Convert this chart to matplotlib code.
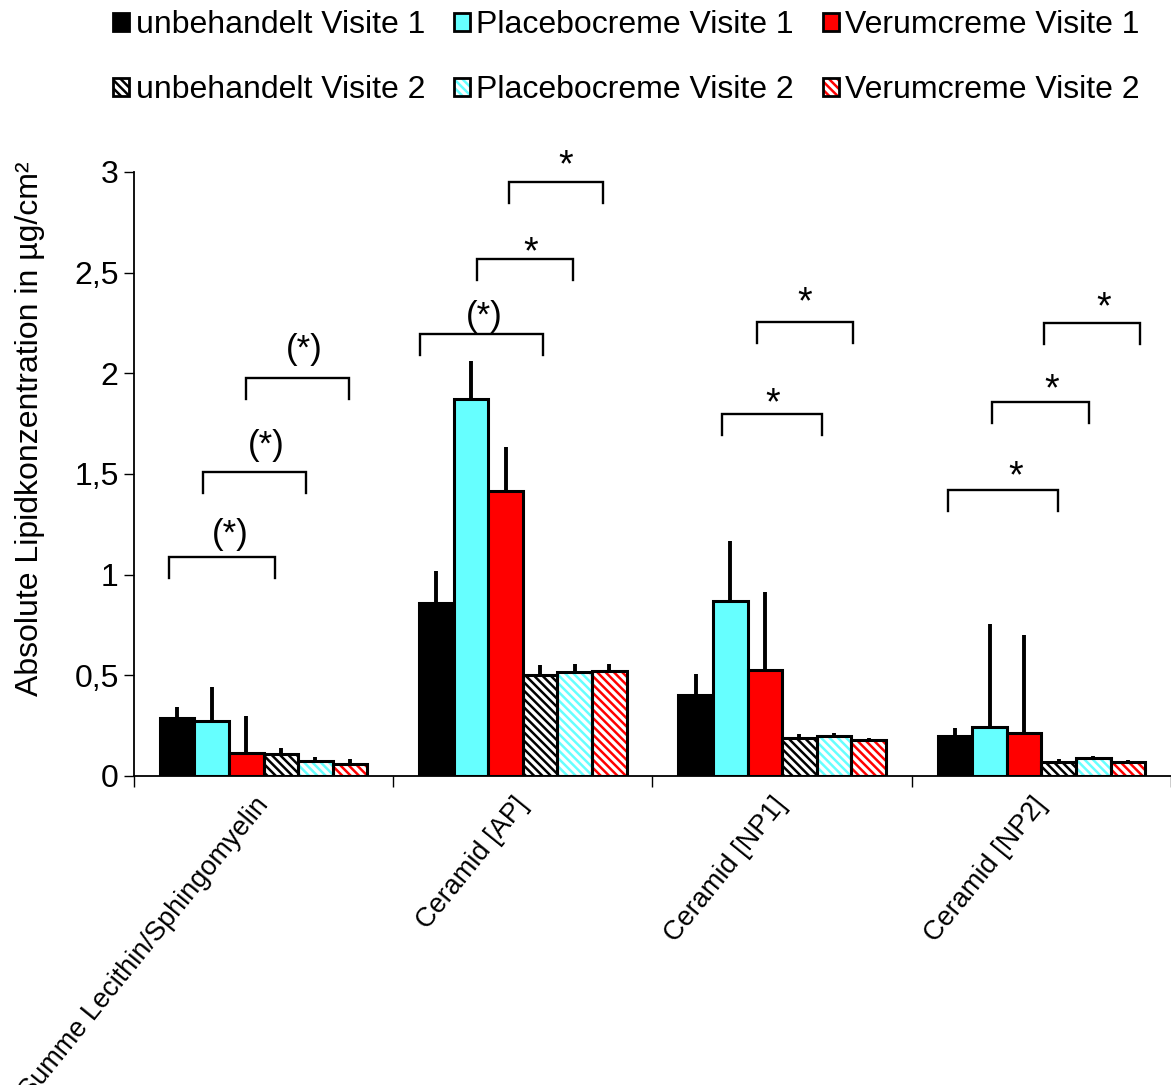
import matplotlib
matplotlib.use('Agg')
import matplotlib.pyplot as plt
import numpy as np
from matplotlib.patches import Patch
from matplotlib.legend_handler import HandlerTuple
from matplotlib.ticker import FixedLocator

plt.rcParams['font.family'] = ['Liberation Sans', 'DejaVu Sans']
plt.rcParams['hatch.linewidth'] = 1.8

# ---------------- data ----------------
categories = ['Summe Lecithin/Sphingomyelin', 'Ceramid [AP]', 'Ceramid [NP1]', 'Ceramid [NP2]']
series = ['unbehandelt Visite 1', 'Placebocreme Visite 1', 'Verumcreme Visite 1',
          'unbehandelt Visite 2', 'Placebocreme Visite 2', 'Verumcreme Visite 2']

unbeh_v1 = [0.29, 0.86, 0.40, 0.20]
unbeh_v1_err = [0.053, 0.16, 0.105, 0.04]
placebo_v1 = [0.275, 1.87, 0.87, 0.241]
placebo_v1_err = [0.167, 0.19, 0.295, 0.516]
verum_v1 = [0.115, 1.413, 0.524, 0.215]
verum_v1_err = [0.183, 0.223, 0.392, 0.483]
unbeh_v2 = [0.11, 0.50, 0.19, 0.069]
unbeh_v2_err = [0.027, 0.05, 0.02, 0.017]
placebo_v2 = [0.076, 0.518, 0.197, 0.088]
placebo_v2_err = [0.02, 0.037, 0.018, 0.009]
verum_v2 = [0.06, 0.523, 0.18, 0.071]
verum_v2_err = [0.024, 0.035, 0.01, 0.01]

yticks = [0, 0.5, 1, 1.5, 2, 2.5, 3]
ytick_labels = ['0', '0,5', '1', '1,5', '2', '2,5', '3']

# significance brackets: (category, left slot, right slot, bracket y, label, label slot, label baseline y)
sig_cat = [0, 0, 0, 1, 1, 1, 2, 2, 3, 3, 3]
sig_left = [-0.24, 0.76, 2.0, -0.48, 1.16, 2.11, 0.77, 1.78, -0.19, 1.06, 2.57]
sig_right = [2.84, 3.73, 4.98, 3.08, 3.95, 4.83, 3.66, 4.56, 2.99, 3.87, 5.36]
sig_y = [1.09, 1.51, 1.976, 2.195, 2.568, 2.952, 1.798, 2.257, 1.422, 1.857, 2.252]
sig_label = ['(*)', '(*)', '(*)', '(*)', '*', '*', '*', '*', '*', '*', '*']
sig_label_slot = [1.545, 2.575, 3.68, 1.372, 2.735, 3.727, 2.23, 3.16, 1.76, 2.81, 4.29]
sig_label_y = [1.150, 1.592, 2.069, 2.237, 2.547, 2.977, 1.798, 2.299, 1.434, 1.864, 2.272]

# ---------------- styles ----------------
values = [unbeh_v1, placebo_v1, verum_v1, unbeh_v2, placebo_v2, verum_v2]
errors = [unbeh_v1_err, placebo_v1_err, verum_v1_err, unbeh_v2_err, placebo_v2_err, verum_v2_err]
colors = ['#000000', '#66FFFF', '#FF0000', '#000000', '#66FFFF', '#FF0000']
hatched = [False, False, False, True, True, True]
HATCH = '\\\\\\\\'

fig = plt.figure(figsize=(11.71, 10.85), dpi=100)
ax = fig.add_axes([0.1144, 0.2848, 0.8856, 0.5567])

n = len(series)
w = 0.8 / n
x = np.arange(len(categories))

handles = []
for i in range(n):
    xpos = x + (i - (n - 1) / 2) * w
    if hatched[i]:
        ax.bar(xpos, values[i], w, color='white', edgecolor=colors[i], hatch=HATCH,
               linewidth=0, zorder=2)
        ax.bar(xpos, values[i], w, fill=False, edgecolor='black', linewidth=2.2, zorder=3)
        h = (Patch(facecolor='white', edgecolor=colors[i], hatch=HATCH, linewidth=0),
             Patch(fill=False, edgecolor='black', linewidth=2))
    else:
        ax.bar(xpos, values[i], w, color=colors[i], edgecolor='black', linewidth=2.2, zorder=3)
        h = Patch(facecolor=colors[i], edgecolor='black', linewidth=2)
    handles.append(h)
    ax.errorbar(xpos, values[i], yerr=[np.zeros(len(categories)), errors[i]], fmt='none',
                ecolor='black', elinewidth=2.8, capsize=0, zorder=4)

# significance brackets
for c, l, r, y, lab, ls, ly in zip(sig_cat, sig_left, sig_right, sig_y, sig_label,
                                   sig_label_slot, sig_label_y):
    xl = c + (l - (n - 1) / 2) * w
    xr = c + (r - (n - 1) / 2) * w
    drop = 0.105
    ax.plot([xl, xl, xr, xr], [y - drop, y, y, y - drop], color='black', lw=1.7,
            solid_joinstyle='miter', zorder=5)
    xt = c + (ls - (n - 1) / 2) * w
    fs = 25 if lab == '(*)' else 27
    ax.text(xt, ly, lab, ha='center', va='baseline', fontsize=fs, zorder=5)

# axes
ax.set_xlim(-0.5, 3.5)
ax.set_ylim(0, 3)
for s in ['top', 'right']:
    ax.spines[s].set_visible(False)
ax.spines['left'].set_linewidth(1.3)
ax.spines['bottom'].set_linewidth(1.3)

ax.set_yticks(yticks)
ax.set_yticklabels(ytick_labels, fontsize=23)
ax.tick_params(axis='y', direction='out', length=7, width=1, pad=4)

ax.set_xticks(x)
ax.set_xticklabels(categories, fontsize=19.5, rotation=51, ha='right', va='center',
                   rotation_mode='anchor')
ax.tick_params(axis='x', which='major', length=0, pad=18)
ax.xaxis.set_minor_locator(FixedLocator(np.arange(-0.5, 3.6, 1.0)))
ax.tick_params(axis='x', which='minor', direction='out', length=8, width=1)

ax.set_ylabel('Absolute Lipidkonzentration in µg/cm²', fontsize=23)
ax.yaxis.set_label_coords(-0.086, 0.575)

# legend (column-wise order for ncol=3)
order = [0, 3, 1, 4, 2, 5]
fig.legend([handles[k] for k in order], [series[k] for k in order], ncol=3,
           loc='upper center', bbox_to_anchor=(0.535, 1.017), frameon=False,
           fontsize=23, handlelength=0.5, handleheight=0.5, handletextpad=0.2,
           columnspacing=0.9, labelspacing=1.1,
           handler_map={tuple: HandlerTuple(ndivide=1)})

fig.savefig('out.png', dpi=100)
